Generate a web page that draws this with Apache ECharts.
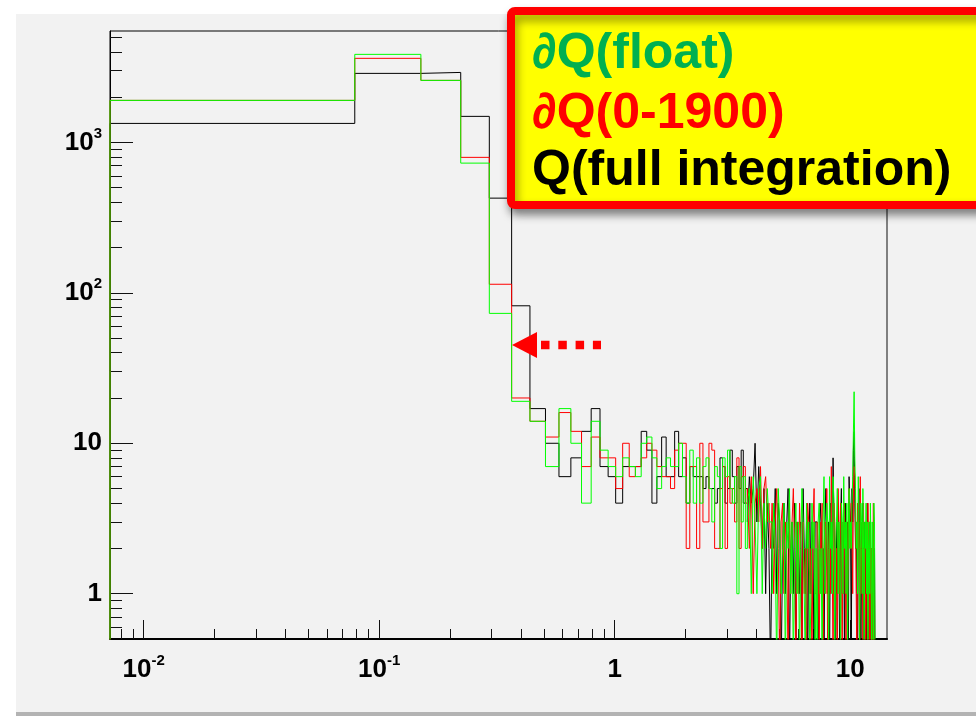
<!DOCTYPE html>
<html><head><meta charset="utf-8">
<script src="https://cdn.jsdelivr.net/npm/echarts@6/dist/echarts.min.js"></script>
<style>html,body{margin:0;padding:0;background:#fff}#c{width:976px;height:716px}</style>
</head><body><div id="c"></div>
<script>
// ---- data ----
const binStart = 0.0072;         // low edge of the first bin
const binWidth = 0.0716;         // linear bin width
const nBins = 200;
const xMin = 0.0072, xMax = binStart + nBins * binWidth;
const yMin = 0.5, yMax = 5500;

const blackCounts = [
 1337,2875,2917,1489,426,82,17,10,6,8, 12,17,7,6,4,7,7,7,12,9, 4,6,11,6,6,12,6,8,4,7, 6,6,6,5,
 6,5,5,4,5,8,7,4,5,9, 6,4,7,5,9,4,5,3,6,4, 5,10,3,7,4,2,5,1,4,2,
 0,3,2,5,1,4,3,0,2,4, 1,3,5,0,2,3,1,4,0,3, 2,1,3,0,5,2,1,3,0,2, 4,1,3,2,0,3,
 3,1,0,2,4,3,1,2,0,3, 5,2,1,3,0,4,2,1,8,3, 2,0,3,1,4,2,0,3,5,1, 2,3,0,4,1,2,3,0,6,4,
 3,0,5,3,9,12,4,2,3,1, 0,3,5,2,1,0,3,2,4,1, 0,3,1,2,0,4,1,0,2,3, 1,0,2,0,1,3,0,2,0,0,
 0,0,0,0,0,0,0,0,0,0, 0,0,0,0,0,0,0,0,0,0
];
const redCounts = [
 1902,3620,2583,795,114,20,14,11,16,12, 7,11,8,8,5,10,6,7,8,10, 9,7,6,6,5,9,10,10,2,7, 7,2,10,3,
 3,10,9,2,2,5,7,2,6,4, 5,3,8,2,6,7,4,5,2,6, 1,4,5,3,7,2,5,6,3,4,
 2,4,1,3,5,2,0,3,4,1, 3,2,0,4,1,3,5,2,0,3, 1,4,2,0,3,1,2,0,4,3, 1,2,0,3,5,1,
 1,3,2,0,3,1,4,0,2,3, 1,5,0,2,3,1,7,2,0,4, 3,1,2,0,5,3,1,4,2,0, 3,1,4,2,0,3,1,2,5,3,
 2,4,3,1,5,7,6,3,1,0, 4,2,3,0,6,1,2,3,0,4, 1,2,0,3,1,0,4,2,0,1, 3,0,2,1,0,4,1,0,0,0,
 0,0,0,0,0,0,0,0,0,0, 0,0,0,0,0,0,0,0,0,0
];
const greenCounts = [
 1902,3846,2583,728,73,19,14,7,17,10, 4,14,9,7,6,8,7,6,10,11, 8,5,7,8,7,7,10,6,4,9, 4,8,4,7,
 8,5,3,7,6,2,8,6,9,5, 4,6,1,7,3,6,2,4,5,1, 6,3,1,5,6,1,4,2,5,3,
 3,1,4,2,0,5,3,1,2,4, 0,3,2,5,1,3,0,2,4,1, 3,0,2,5,3,1,0,4,2,3, 0,1,4,2,3,0,
 2,0,3,4,1,2,0,3,6,1, 2,4,3,0,6,2,3,1,6,4, 0,2,3,5,1,3,2,0,4,3, 1,6,2,3,1,4,0,3,5,2,
 3,2,4,6,12,22,8,5,2,3, 1,6,3,0,2,4,3,1,5,2, 0,3,2,4,1,3,0,2,3,1, 4,2,0,3,1,0,4,3,0,0,
 0,0,0,0,0,0,0,0,0,0, 0,0,0,0,0,0,0,0,0,0
];

const xMajorTicks = [0.01, 0.1, 1, 10];
const xTickLabels = ['10^-2', '10^-1', '1', '10'];
const xMinorTicks = [0.008,0.009,0.02,0.03,0.04,0.05,0.06,0.07,0.08,0.09,
  0.2,0.3,0.4,0.5,0.6,0.7,0.8,0.9,2,3,4,5,6,7,8,9];
const yMajorTicks = [1, 10, 100, 1000];
const yTickLabels = ['1', '10', '10^2', '10^3'];
const yMinorTicks = [0.6,0.7,0.8,0.9,2,3,4,5,6,7,8,9,20,30,40,50,60,70,80,90,
  200,300,400,500,600,700,800,900,2000,3000,4000,5000];

const legendTexts = ['\u2202Q(float)', '\u2202Q(0-1900)', 'Q(full integration)'];
const legendColors = ['#00b050', '#ff0000', '#000000'];

// ---- build ----
const FLOOR = 0.3; // empty bins are drawn down below the frame bottom (clipped)
function histPoints(counts) {
  const pts = [[binStart, FLOOR]];
  counts.forEach((c, i) => {
    const lo = binStart + i * binWidth;
    const hi = binStart + (i + 1) * binWidth;
    const v = c > 0 ? c : FLOOR;
    pts.push([lo, v], [hi, v]);
  });
  pts.push([binStart + counts.length * binWidth, FLOOR]);
  return pts;
}
function richLabel(str) {
  const p = str.split('^');
  return p.length > 1 ? '{b|' + p[0] + '}{s|' + p[1] + '}' : '{b|' + p[0] + '}';
}
function fmt(ticks, labels) {
  return function (v) {
    for (let i = 0; i < ticks.length; i++) {
      if (Math.abs(v - ticks[i]) <= ticks[i] * 1e-6) return richLabel(labels[i]);
    }
    return '';
  };
}
const labelFont = '"Liberation Sans Narrow","Liberation Sans",Arial,sans-serif';
const rich = {
  b: { fontSize: 26, fontWeight: 'bold', fontFamily: labelFont, color: '#000', lineHeight: 27 },
  s: { fontSize: 15, fontWeight: 'bold', fontFamily: labelFont, color: '#000', verticalAlign: 'top', lineHeight: 27, padding: [-3, 0, 0, 0] }
};

const series = [
  ['black', '#000000', blackCounts],
  ['red', '#ff0000', redCounts],
  ['green', '#00ff00', greenCounts]
].map(([name, color, counts], k) => ({
  name, type: 'line', xAxisIndex: 0, yAxisIndex: 0,
  data: histPoints(counts), showSymbol: false, symbol: 'none',
  lineStyle: { color, width: 1 }, clip: true, z: 2 + k, animation: false, silent: true
}));

const chart = echarts.init(document.getElementById('c'), null, { renderer: 'canvas' });
chart.setOption({
  animation: false,
  backgroundColor: '#ffffff',
  grid: { left: 110, right: 89, top: 31, bottom: 77, containLabel: false, outerBoundsMode: 'none',
          show: true, borderColor: '#000', borderWidth: 1, backgroundColor: 'transparent' },
  xAxis: [
    { type: 'log', logBase: 10, min: xMin, max: xMax, position: 'bottom',
      axisLine: { show: true, onZero: false, lineStyle: { color: '#000', width: 2 } },
      axisTick: { show: true, inside: true, length: 19, customValues: xMajorTicks, lineStyle: { color: '#111', width: 1 } },
      axisLabel: { show: true, customValues: xMajorTicks, formatter: fmt(xMajorTicks, xTickLabels), rich, margin: 17 },
      splitLine: { show: false }, minorTick: { show: false } },
    { type: 'log', logBase: 10, min: xMin, max: xMax, position: 'bottom',
      axisLine: { show: false, onZero: false },
      axisTick: { show: true, inside: true, length: 10, customValues: xMinorTicks, lineStyle: { color: '#111', width: 1 } },
      axisLabel: { show: false }, splitLine: { show: false } }
  ],
  yAxis: [
    { type: 'log', logBase: 10, min: yMin, max: yMax, position: 'left',
      axisLine: { show: true, onZero: false, lineStyle: { color: '#000', width: 1 } },
      axisTick: { show: true, inside: true, length: 23, customValues: yMajorTicks, lineStyle: { color: '#111', width: 1 } },
      axisLabel: { show: true, customValues: yMajorTicks, formatter: fmt(yMajorTicks, yTickLabels), rich, margin: 8 },
      splitLine: { show: false }, minorTick: { show: false } },
    { type: 'log', logBase: 10, min: yMin, max: yMax, position: 'left',
      axisLine: { show: false, onZero: false },
      axisTick: { show: true, inside: true, length: 12, customValues: yMinorTicks, lineStyle: { color: '#111', width: 1 } },
      axisLabel: { show: false }, splitLine: { show: false } },
    { type: 'value', min: 0, max: 1, position: 'right',
      axisLine: { show: true, onZero: false, lineStyle: { color: '#808080', width: 2 } },
      axisTick: { show: false }, axisLabel: { show: false }, splitLine: { show: false } }
  ],
  series,
  graphic: { elements: [
    { type: 'rect', z: -100, silent: true, shape: { x: 16, y: 14, width: 960, height: 699 }, style: { fill: '#f2f2f2' } },
    { type: 'rect', z: -99, silent: true, shape: { x: 16, y: 712, width: 960, height: 4 }, style: { fill: '#b3b3b3' } },
    // annotation arrow
    { type: 'polygon', z: 50, silent: true, shape: { points: [[512, 345], [537, 332], [537, 358]] }, style: { fill: '#ff0000' } },
    { type: 'line', z: 50, silent: true, shape: { x1: 541, y1: 345, x2: 601, y2: 345 },
      style: { stroke: '#ff0000', lineWidth: 8.5, lineDash: [8.5, 8.8] } },
    // legend box
    { type: 'rect', z: 60, silent: true, shape: { x: 511, y: 11, width: 500, height: 194, r: 4 },
      style: { fill: '#ffff00', stroke: '#ff0000', lineWidth: 8,
               shadowBlur: 10, shadowOffsetX: 2, shadowOffsetY: 6, shadowColor: 'rgba(0,0,0,0.4)' } }
  ].concat(legendTexts.map((t, i) => ({
    type: 'text', z: 61, silent: true, x: 532, y: [54, 114, 171][i],
    style: { text: t, fill: legendColors[i], fontSize: 50, fontWeight: 'bold',
             fontFamily: '"Liberation Sans",Arial,sans-serif', verticalAlign: 'middle', align: 'left' }
  }))) }
});
</script></body></html>
